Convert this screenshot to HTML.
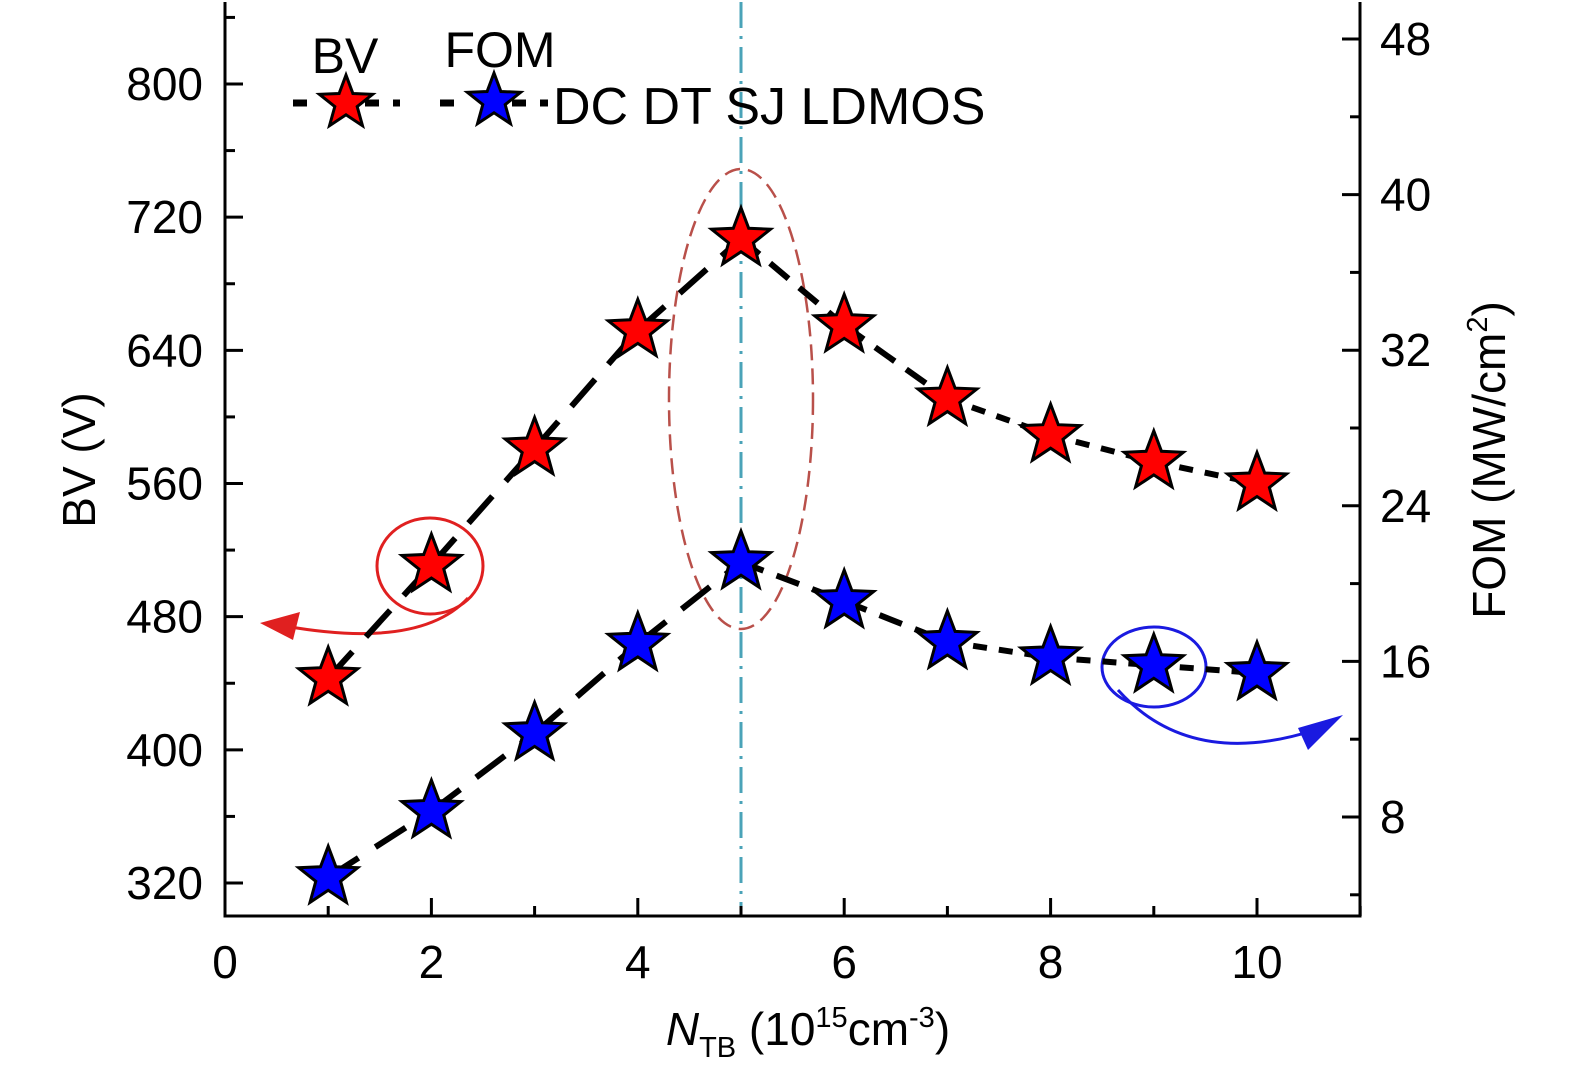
<!DOCTYPE html>
<html><head><meta charset="utf-8"><style>
body{margin:0;background:#fff}
svg text{font-family:"Liberation Sans",sans-serif;fill:#000}
</style></head><body>
<svg id="chart" width="1575" height="1082" viewBox="0 0 1575 1082" xmlns="http://www.w3.org/2000/svg">
<g id="g"></g>
</svg>
<script>
const xVals=[1,2,3,4,5,6,7,8,9,10];
const bvVals=[443,511,581,652,707,655,611,589,573,560];
const fomVals=[4.9,8.3,12.3,16.9,21.1,19.1,17.0,16.2,15.8,15.4];
const xTicks=[0,2,4,6,8,10];
const leftTicks=[320,400,480,560,640,720,800];
const rightTicks=[8,16,24,32,40,48];

const L=225,R=1360,T=2,B=916;
const sx=v=>L+v*(1257-225)/10;
const sy=v=>84+(800-v)*(883-84)/480;
const sr=v=>817-(v-8)*(817-39)/40;
const NS="http://www.w3.org/2000/svg";
const g=document.getElementById('g');
function mk(tag,attrs,name,parent){const e=document.createElementNS(NS,tag);for(const k in attrs)e.setAttribute(k,attrs[k]);


(parent||g).appendChild(e);return e;}
function txt(x,y,s,size,anchor,name,extra){const t=mk('text',Object.assign({x:x,y:y,'font-size':size,'text-anchor':anchor||'middle'},extra||{}),name);t.textContent=s;return t;}
function star(cx,cy,r,fill,name){let p=[];for(let i=0;i<10;i++){const a=-Math.PI/2+i*Math.PI/5;const rr=i%2?r*0.42:r;p.push((cx+rr*Math.cos(a)).toFixed(1)+','+(cy+rr*Math.sin(a)).toFixed(1));}
return mk('polygon',{points:p.join(' '),fill:fill,stroke:'#000','stroke-width':3,'stroke-linejoin':'miter'},name);}

mk('line',{x1:sx(5),y1:T,x2:sx(5),y2:B,stroke:'#4aa3b8','stroke-width':3,'stroke-dasharray':'26 8 3 8'},'reference-line-x5');

mk('path',{d:`M${L},${T} L${L},${B} L${R},${B} L${R},${T}`,fill:'none',stroke:'#000','stroke-width':3},'axes-frame');
for(let v=0;v<=11;v++){const maj=v%2===0;mk('line',{x1:sx(v),y1:B,x2:sx(v),y2:B-(maj?18:10),stroke:'#000','stroke-width':3},'x-tick');}
xTicks.forEach(v=>txt(sx(v),978,String(v),46,'middle','x-tick-label'));
for(let v=320;v<=840;v+=40){const maj=(v-320)%80===0;mk('line',{x1:L,y1:sy(v),x2:L+(maj?18:10),y2:sy(v),stroke:'#000','stroke-width':3},'left-tick');}
leftTicks.forEach(v=>txt(L-22,sy(v)+16,String(v),46,'end','left-tick-label'));
for(let v=4;v<=48;v+=4){const maj=v%8===0;mk('line',{x1:R,y1:sr(v),x2:R-(maj?18:10),y2:sr(v),stroke:'#000','stroke-width':3},'right-tick');}
rightTicks.forEach(v=>txt(R+20,sr(v)+16,String(v),46,'start','right-tick-label'));

const xt=txt(808,1045,'',46,'middle','x-axis-title');
xt.innerHTML='<tspan font-style="italic">N</tspan><tspan font-size="29" dy="12">TB</tspan><tspan dy="-12"> (10</tspan><tspan font-size="29" dy="-18">15</tspan><tspan dy="18">cm</tspan><tspan font-size="29" dy="-18">-3</tspan><tspan dy="18">)</tspan>';
txt(0,0,'BV (V)',46,'middle','left-axis-title',{transform:'translate(95,460) rotate(-90)'});
const rt=txt(0,0,'',46,'middle','right-axis-title',{transform:'translate(1505,460) rotate(-90)'});
rt.innerHTML='FOM (MW/cm<tspan font-size="29" dy="-18">2</tspan><tspan dy="18">)</tspan>';

mk('ellipse',{cx:430,cy:566,rx:53,ry:48,fill:'none',stroke:'#e02020','stroke-width':3},'bv-highlight-circle');
mk('path',{d:'M468,598 Q420,650 285,626',fill:'none',stroke:'#e02020','stroke-width':3},'bv-arrow');
mk('polygon',{points:'260,623 300,612 293,640',fill:'#e02020'},'bv-arrowhead');
mk('ellipse',{cx:741,cy:399,rx:72,ry:230,fill:'none',stroke:'#b9504a','stroke-width':2.5,'stroke-dasharray':'16 8'},'peak-ellipse');
mk('ellipse',{cx:1154,cy:667,rx:52,ry:40,fill:'none',stroke:'#1a1ae0','stroke-width':3},'fom-highlight-circle');
mk('path',{d:'M1118,690 Q1190,770 1315,730',fill:'none',stroke:'#1a1ae0','stroke-width':3},'fom-arrow');
mk('polygon',{points:'1343,715 1308,750 1298,728',fill:'#1a1ae0'},'fom-arrowhead');

function series(vals,scale,name){
 for(let i=0;i<vals.length-1;i++){
  const dash=i<4?'36 20':(i<6?'24 14':'14 12');
  mk('line',{x1:sx(xVals[i]),y1:scale(vals[i]),x2:sx(xVals[i+1]),y2:scale(vals[i+1]),stroke:'#000','stroke-width':6,'stroke-dasharray':dash},name+'-segment');
 }
}
series(bvVals,sy,'bv-line');
series(fomVals,sr,'fom-line');
xVals.forEach((x,i)=>star(sx(x),sy(bvVals[i]),31,'#ff0000','bv-point'));
xVals.forEach((x,i)=>star(sx(x),sr(fomVals[i]),31,'#0000ff','fom-point'));

txt(345,73,'BV',50,'middle','legend-bv-label');
txt(500,67,'FOM',50,'middle','legend-fom-label');
mk('line',{x1:293,y1:103,x2:400,y2:103,stroke:'#000','stroke-width':7,'stroke-dasharray':'14 22 0 36 14'},'legend-bv-line');
star(346,103,28,'#ff0000','legend-bv-star');
mk('line',{x1:440,y1:103,x2:548,y2:103,stroke:'#000','stroke-width':7,'stroke-dasharray':'14 22 0 36 14'},'legend-fom-line');
star(494,101,28,'#0000ff','legend-fom-star');
txt(553,124,'DC DT SJ  LDMOS',52,'start','legend-device-label',{'xml:space':'preserve'});
</script>
</body></html>
